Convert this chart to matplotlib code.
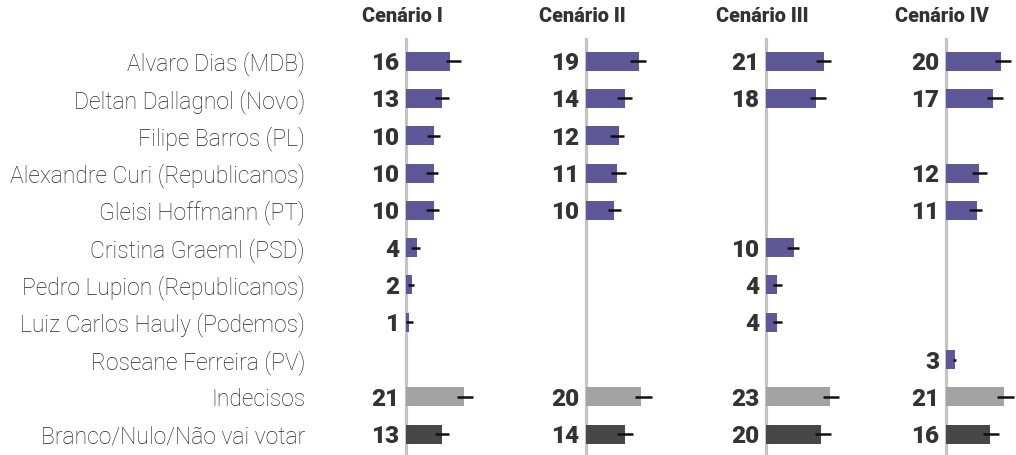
from matplotlib import pyplot as plt
import matplotlib.transforms as mtransforms
import numpy as np

plt.rcParams['font.family'] = ['Roboto', 'DejaVu Sans']

candidatos = ["Alvaro Dias (MDB)", "Deltan Dallagnol (Novo)", "Filipe Barros (PL)",
              "Alexandre Curi (Republicanos)", "Gleisi Hoffmann (PT)", "Cristina Graeml (PSD)",
              "Pedro Lupion (Republicanos)", "Luiz Carlos Hauly (Podemos)", "Roseane Ferreira (PV)",
              "Indecisos", "Branco/Nulo/Não vai votar"]
cenarios = ["Cenário I", "Cenário II", "Cenário III", "Cenário IV"]

# None = candidato fora do cenario
cenario_1 = [16, 13, 10, 10, 10, 4, 2, 1, None, 21, 13]
cenario_2 = [19, 14, 12, 11, 10, None, None, None, None, 20, 14]
cenario_3 = [21, 18, None, None, None, 10, 4, 4, None, 23, 20]
cenario_4 = [20, 17, None, 12, 11, None, None, None, 3, 21, 16]

# limites do intervalo (margem de erro)
lo_1 = [14.5, 10.5, 7.5, 7.0, 7.2, 1.8, 0.6, 0.0, None, 18.2, 10.3]
hi_1 = [20.0, 15.4, 12.1, 11.5, 11.7, 4.8, 2.7, 2.2, None, 24.2, 15.5]
lo_2 = [15.8, 11.1, 8.5, 8.9, 7.9, None, None, None, None, 17.6, 11.2]
hi_2 = [21.6, 16.4, 13.7, 14.2, 12.7, None, None, None, None, 23.9, 16.9]
lo_3 = [17.9, 15.8, None, None, None, 7.3, 2.4, 2.4, None, 20.4, 17.6]
hi_3 = [23.6, 21.6, None, None, None, 11.9, 5.7, 5.7, None, 26.4, 23.6]
lo_4 = [17.6, 14.8, None, 9.3, 8.1, None, None, None, 2.2, 18.5, 13.2]
hi_4 = [23.6, 20.4, None, 14.8, 12.9, None, None, None, 3.6, 24.5, 19.0]

valores = [cenario_1, cenario_2, cenario_3, cenario_4]
los = [lo_1, lo_2, lo_3, lo_4]
his = [hi_1, hi_2, hi_3, hi_4]

roxo = "#5e5898"
cor_indecisos = "#a3a3a3"
cor_branco = "#474747"
cores = [roxo] * 9 + [cor_indecisos, cor_branco]
texto = "#333333"

W, H = 1016, 455
fig = plt.figure(figsize=(W / 100, H / 100), dpi=100)

px = 2.75  # pixels por ponto percentual
y = np.arange(len(candidatos))
axes = []
for k in range(4):
    left = 404 + 180 * k
    ax = fig.add_axes([left / W, 0, 150 / W, 417 / H])
    ax.set_xlim(-0.9, -0.9 + 150 / px)
    ax.set_ylim(10.56, -0.62)
    ax.axis("off")
    ax.axvline(-0.3, color="#c4c4c4", lw=2.3, zorder=1)
    vals = valores[k]
    for i, v in enumerate(vals):
        if v is None:
            continue
        ax.barh(i, v, height=0.51, color=cores[i], zorder=2)
        ax.plot([los[k][i], his[k][i]], [i, i], color="#111111", lw=1.8,
                solid_capstyle="butt", zorder=3)
        ax.annotate(str(v), xy=(-0.3, i), xytext=(-4.5, 0), textcoords="offset points",
                    ha="right", va="center_baseline", fontsize=17.5, fontweight="black",
                    color=texto)
    fig.text((left - 2) / W, 1 - 17 / H, cenarios[k], ha="center", va="center",
             fontsize=14.3, fontweight="black", color=texto)
    axes.append(ax)

trans = mtransforms.blended_transform_factory(fig.transFigure, axes[0].transData)
for i, nome in enumerate(candidatos):
    axes[0].text(305 / W, i, nome, transform=trans, ha="right", va="center_baseline",
                 fontsize=16.5, fontweight="light", color="#262626")

fig.savefig("out.png", dpi=100)
